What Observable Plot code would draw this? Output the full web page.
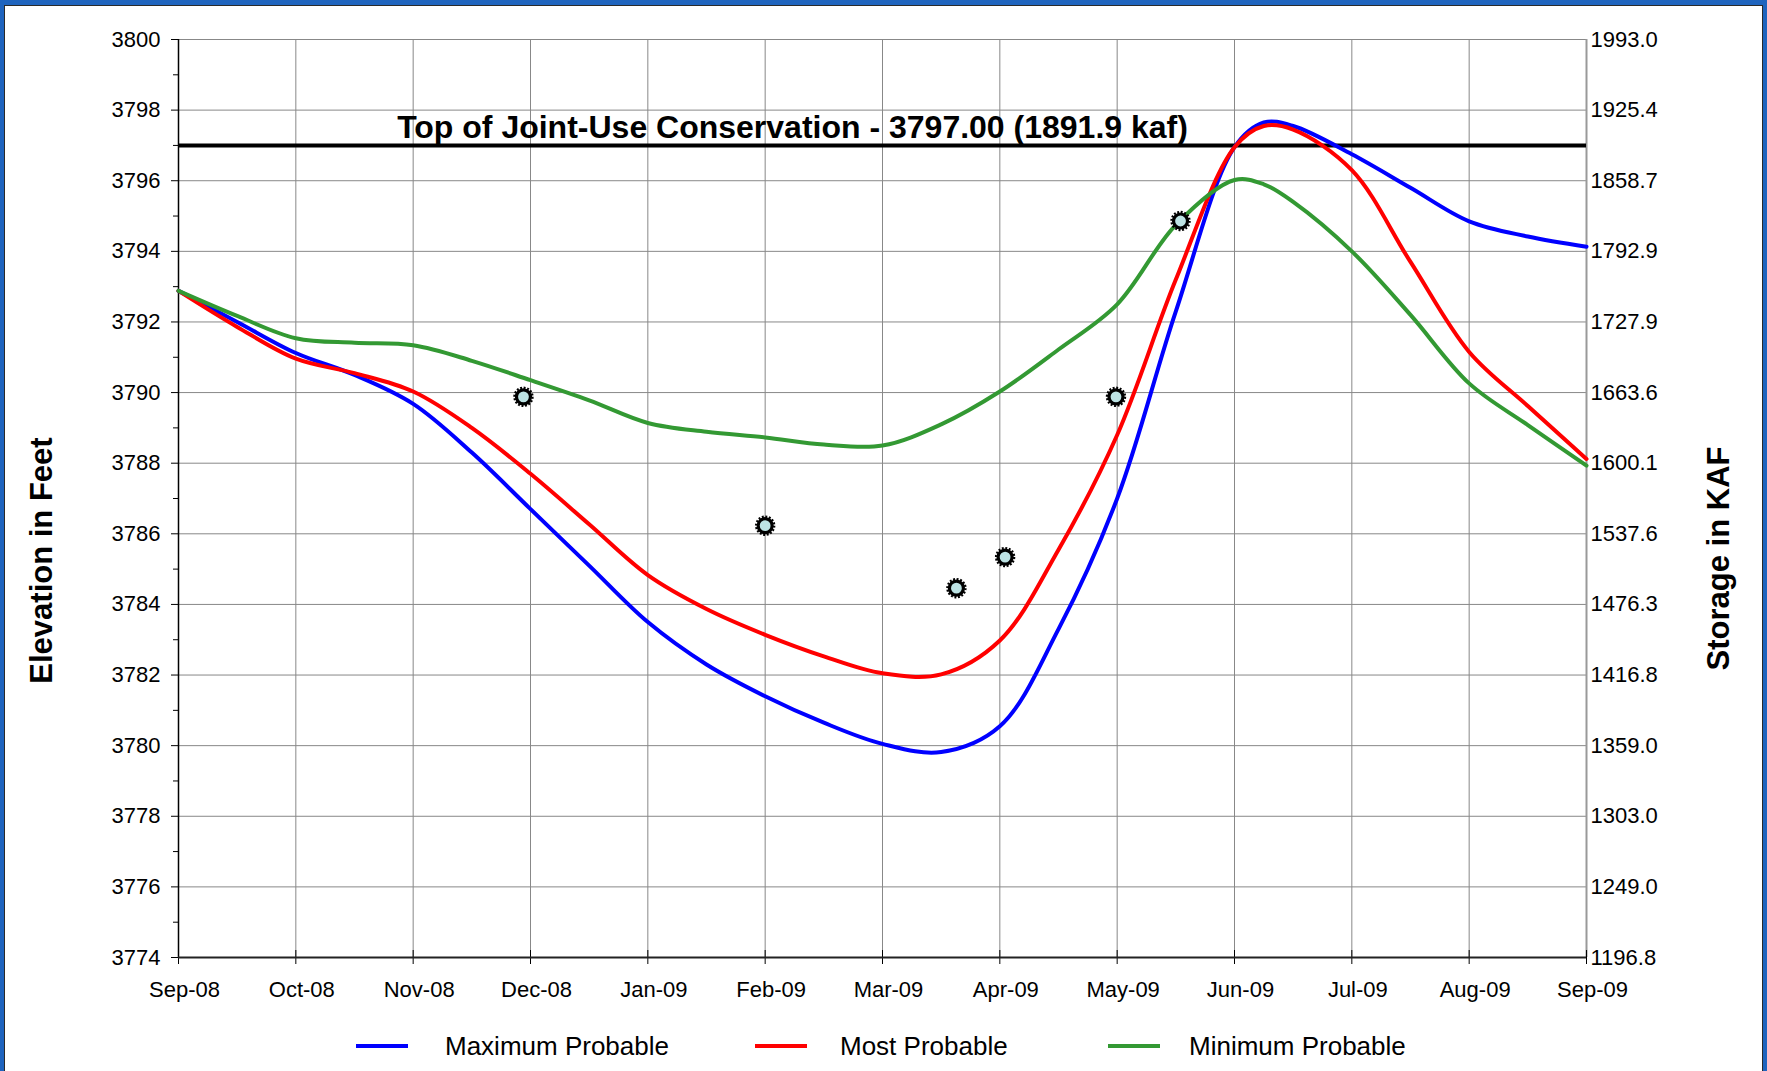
<!DOCTYPE html>
<html>
<head>
<meta charset="utf-8">
<script src="https://cdn.jsdelivr.net/npm/d3@7"></script>
<script src="https://cdn.jsdelivr.net/npm/@observablehq/plot@0.6"></script>
<style>
  html, body { margin: 0; padding: 0; background: #fff; }
  #page { position: relative; width: 1767px; height: 1071px; overflow: hidden; background: #fff;
          font-family: "Liberation Sans", Arial, sans-serif; }
  #frame { position: absolute; left: 0; top: 0; width: 1767px; height: 1071px; box-sizing: border-box;
           border-top: 5px solid #1F64BE; border-left: 4px solid #1F64BE; border-right: 4px solid #1F64BE;
           pointer-events: none; }
  #frame2 { position: absolute; left: 4px; top: 5px; width: 1759px; height: 1066px; box-sizing: border-box;
            border-top: 1px solid #2a2a2a; border-left: 1px solid #2a2a2a; border-right: 1px solid #2a2a2a;
            pointer-events: none; }
  #legend { position: relative; width: 1767px; height: 61px; }
  .sw { position: absolute; height: 4px; top: 34px; }
  .lt { position: absolute; top: 21px; font-size: 26px; line-height: 30px; color: #000; white-space: nowrap; }
</style>
</head>
<body>
<div id="page">
  <div id="chart"></div>
  <div id="legend"></div>
  <div id="frame"></div>
  <div id="frame2"></div>
</div>
<script>
// ---- Data ----
const monthLabels = ["Sep-08","Oct-08","Nov-08","Dec-08","Jan-09","Feb-09","Mar-09","Apr-09","May-09","Jun-09","Jul-09","Aug-09","Sep-09"];
const elevTicks = [3774,3776,3778,3780,3782,3784,3786,3788,3790,3792,3794,3796,3798,3800];
const storageLabels = ["1196.8","1249.0","1303.0","1359.0","1416.8","1476.3","1537.6","1600.1","1663.6","1727.9","1792.9","1858.7","1925.4","1993.0"];
// month index positions (0 = Sep-08 ... 12 = Sep-09)
const monthPos = [0,0.5,1,1.5,2,2.5,3,3.5,4,4.5,5,5.5,6,6.5,7,7.5,8,8.5,9,9.25,9.5,10,10.5,11,11.5,12];
const maxProbable = [3792.88,3792.0,3791.12,3790.5,3789.68,3788.3,3786.7,3785.1,3783.5,3782.3,3781.4,3780.65,3780.05,3779.82,3780.55,3783.3,3787.0,3792.3,3796.95,3797.65,3797.55,3796.75,3795.8,3794.85,3794.42,3794.13];
const mostProbable = [3792.88,3791.86,3790.96,3790.55,3790.03,3789.0,3787.7,3786.27,3784.83,3783.87,3783.14,3782.53,3782.05,3782.02,3782.98,3785.55,3788.8,3793.2,3796.95,3797.55,3797.45,3796.3,3793.7,3791.15,3789.62,3788.12];
const minProbable = [3792.88,3792.17,3791.54,3791.41,3791.34,3790.9,3790.35,3789.78,3789.14,3788.89,3788.73,3788.53,3788.5,3789.1,3790.03,3791.22,3792.5,3794.75,3796.02,3795.9,3795.4,3794.0,3792.2,3790.26,3789.08,3787.93];
const observedPos = [2.94,5.0,6.63,7.045,7.99,8.54];
const observedElev = [3789.88,3786.23,3784.46,3785.34,3789.88,3794.86];
const jointUseElev = 3797;
const jointUseLabel = "Top of Joint-Use Conservation - 3797.00 (1891.9 kaf)";
const seriesNames = ["Maximum Probable","Most Probable","Minimum Probable"];
const seriesColors = ["#0000FF","#FF0000","#339933"];

// ---- Build tables ----
const seriesValues = [maxProbable, mostProbable, minProbable];
const lineData = seriesValues.map((vals, s) => monthPos.map((m, i) => ({m, elev: vals[i], s})));
const obs = observedPos.map((m, i) => ({m, elev: observedElev[i]}));
const refData = [{elev: jointUseElev, label: jointUseLabel}];
const minorTicks = d3.range(3775, 3800, 2);
const monthIdx = d3.range(0, monthLabels.length);

const font = '"Liberation Sans", Arial, sans-serif';

const chart = Plot.plot({
  width: 1767,
  height: 1010,
  marginLeft: 178,
  marginRight: 181,
  marginTop: 39,
  marginBottom: 53,
  style: {fontFamily: font, fontSize: "22px", color: "#000", background: "transparent", overflow: "visible"},
  x: {domain: [0, 12], axis: null, label: null},
  y: {domain: [3774, 3800], axis: null, label: null},
  marks: [
    Plot.gridX(monthIdx, {stroke: "#888", strokeOpacity: 1, strokeWidth: 1}),
    Plot.gridY(elevTicks, {stroke: "#888", strokeOpacity: 1, strokeWidth: 1}),
    Plot.ruleX([12], {stroke: "#999", strokeWidth: 2}),
    Plot.ruleY(refData, {y: "elev", stroke: "#000", strokeWidth: 4}),
    Plot.text(refData, {y: "elev", text: "label", frameAnchor: "middle", dx: -90, dy: -18, fontSize: 32, fontWeight: "bold", fill: "#000"}),
    // left axis
    Plot.axisY(elevTicks, {anchor: "left", label: null, tickSize: 7, tickPadding: 11, tickFormat: d => String(d), fontSize: 22, stroke: "#000"}),
    Plot.axisY(minorTicks, {anchor: "left", label: null, tickSize: 5, text: null, stroke: "#000"}),
    // right axis (storage labels)
    Plot.axisY(elevTicks, {anchor: "right", label: null, tickSize: 0, tickPadding: 4, tickFormat: d => storageLabels[elevTicks.indexOf(d)], fontSize: 22}),
    // bottom axis
    Plot.axisX(monthIdx, {anchor: "bottom", label: null, tickSize: 7, text: null, stroke: "#000"}),
    Plot.axisX(monthIdx, {anchor: "bottom", label: null, tickSize: 0, tickPadding: 24, dx: 6, tickFormat: i => monthLabels[i], fontSize: 22}),
    Plot.axisX(monthIdx, {anchor: "bottom", label: null, tickSize: -7, text: null, stroke: "#000"}),
    Plot.ruleX([0], {stroke: "#000", strokeWidth: 1.5}),
    Plot.ruleY([3774], {stroke: "#222", strokeWidth: 2}),
    // axis titles
    Plot.text(["Elevation in Feet"], {frameAnchor: "left", textAnchor: "middle", rotate: -90, dx: -136, dy: 62, fontSize: 31, fontWeight: "bold", fill: "#000"}),
    Plot.text(["Storage in KAF"], {frameAnchor: "right", textAnchor: "middle", rotate: -90, dx: 133, dy: 60, fontSize: 31, fontWeight: "bold", fill: "#000"}),
    // series
    ...lineData.map((d, s) => Plot.line(d, {x: "m", y: "elev", stroke: seriesColors[s], strokeWidth: 4, curve: "catmull-rom"})),
    // observed markers
    Plot.dot(obs, {x: "m", y: "elev", r: 7, fill: "#BDE3E4", stroke: "#000", strokeWidth: 3.2}),
    Plot.dot(obs, {x: "m", y: "elev", r: 9, fill: "none", stroke: "#000", strokeWidth: 2.4, strokeDasharray: "1.9 1.63"})
  ]
});
document.getElementById("chart").appendChild(chart);

// ---- Legend ----
const legend = document.getElementById("legend");
const swLeft = [356, 755, 1108];
const txtLeft = [445, 840, 1189];
seriesNames.forEach((name, i) => {
  const sw = document.createElement("div");
  sw.className = "sw";
  sw.style.left = swLeft[i] + "px";
  sw.style.width = "52px";
  sw.style.background = seriesColors[i];
  legend.appendChild(sw);
  const t = document.createElement("div");
  t.className = "lt";
  t.style.left = txtLeft[i] + "px";
  t.textContent = name;
  legend.appendChild(t);
});
</script>
</body>
</html>
